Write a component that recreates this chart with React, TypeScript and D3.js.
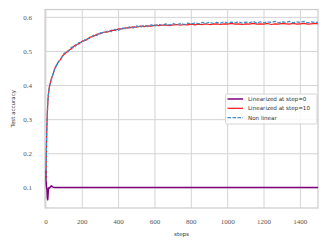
import React, { useRef, useEffect } from "react"
import * as d3 from "d3"

const chart_width = 329
const chart_height = 248
const margin = { left: 45, right: 11, top: 9.5, bottom: 40 }

// steps shared by the two rising curves
const steps = [
  0, 2, 4, 6, 8, 10, 13, 16, 20, 25, 30, 40, 50, 60, 70, 80, 90,
  100, 120, 140, 160, 180, 200, 220, 240, 260, 280, 300, 320, 340, 360, 380,
  400, 420, 440, 460, 480, 500, 520, 540, 560, 580, 600, 620, 640, 660, 680,
  700, 720, 740, 760, 780, 800, 820, 840, 860, 880, 900, 920, 940, 960, 980,
  1000, 1020, 1040, 1060, 1080, 1100, 1120, 1140, 1160, 1180, 1200, 1220, 1240,
  1260, 1280, 1300, 1320, 1340, 1360, 1380, 1400, 1420, 1440, 1460, 1480, 1500,
]

const nonLinear = [
  0.12, 0.19, 0.25, 0.29, 0.32, 0.345, 0.368, 0.386, 0.397, 0.411, 0.417, 0.437, 0.449, 0.463, 0.469, 0.478, 0.484,
  0.495, 0.498, 0.512, 0.514, 0.526, 0.527, 0.537, 0.538, 0.547, 0.547, 0.555, 0.554, 0.561, 0.558, 0.565,
  0.562, 0.569, 0.566, 0.572, 0.569, 0.575, 0.571, 0.577, 0.573, 0.578, 0.575, 0.58, 0.576, 0.581, 0.577,
  0.582, 0.578, 0.582, 0.579, 0.583, 0.58, 0.584, 0.581, 0.585, 0.582, 0.586, 0.582, 0.585, 0.583, 0.587,
  0.583, 0.586, 0.584, 0.587, 0.583, 0.586, 0.584, 0.588, 0.583, 0.587, 0.584, 0.587, 0.585,
  0.588, 0.584, 0.587, 0.585, 0.588, 0.584, 0.587, 0.585, 0.588, 0.584, 0.587, 0.585, 0.586,
]

const linStep10 = [
  0.12, 0.19, 0.25, 0.29, 0.32, 0.345, 0.372, 0.383, 0.4, 0.408, 0.42, 0.434, 0.452, 0.46, 0.471, 0.476, 0.486,
  0.491, 0.501, 0.508, 0.518, 0.522, 0.53, 0.533, 0.541, 0.544, 0.55, 0.552, 0.557, 0.557, 0.562, 0.562,
  0.566, 0.566, 0.569, 0.569, 0.572, 0.571, 0.574, 0.573, 0.575, 0.574, 0.577, 0.576, 0.577, 0.578, 0.576,
  0.578, 0.579, 0.577, 0.579, 0.578, 0.58, 0.578, 0.58, 0.579, 0.581, 0.579, 0.58, 0.581, 0.579, 0.581,
  0.58, 0.582, 0.58, 0.581, 0.579, 0.581, 0.58, 0.582, 0.58, 0.581, 0.58, 0.582, 0.579,
  0.581, 0.58, 0.582, 0.581, 0.58, 0.582, 0.58, 0.581, 0.582, 0.58, 0.581, 0.582, 0.581,
]

const steps0 = [0, 2, 4, 6, 8, 10, 12, 14, 16, 20, 25, 30, 35, 40, 50, 60, 80, 100, 300, 500, 700, 900, 1100, 1300, 1500]
const linStep0 = [
  0.15, 0.11, 0.1, 0.095, 0.07, 0.065, 0.08, 0.1, 0.098, 0.1, 0.103, 0.106, 0.104, 0.102, 0.101, 0.101,
  0.101, 0.101, 0.101, 0.101, 0.101, 0.101, 0.101, 0.101, 0.101,
]

const xTicks = [0, 200, 400, 600, 800, 1000, 1200, 1400]
const yTicks = [0.1, 0.2, 0.3, 0.4, 0.5, 0.6]

const series = [
  { label: "Linearized at step=0", x: steps0, y: linStep0, color: "#800080", width: 1.5, dash: null },
  { label: "Linearized at step=10", x: steps, y: linStep10, color: "#ff1a1a", width: 1.25, dash: null },
  { label: "Non linear", x: steps, y: nonLinear, color: "#3d8ccb", width: 1.25, dash: "3.5,1.5" },
]

const LineChart = () => {
  const d3Container = useRef<SVGSVGElement | null>(null)

  useEffect(() => {
    if (!d3Container.current) return
    const svg = d3.select(d3Container.current)
    svg.selectAll("*").remove()

    const x_scale = d3
      .scaleLinear()
      .domain([-5, 1497])
      .range([margin.left, chart_width - margin.right])
    const y_scale = d3
      .scaleLinear()
      .domain([0.041, 0.623])
      .range([chart_height - margin.bottom, margin.top])

    const g = svg.append("g")

    // grid
    g.selectAll(".xg")
      .data(xTicks)
      .enter()
      .append("line")
      .attr("x1", d => x_scale(d))
      .attr("x2", d => x_scale(d))
      .attr("y1", margin.top)
      .attr("y2", chart_height - margin.bottom)
      .attr("stroke", "#d4d4d4")
      .attr("stroke-width", 1)
    g.selectAll(".yg")
      .data(yTicks)
      .enter()
      .append("line")
      .attr("x1", margin.left)
      .attr("x2", chart_width - margin.right)
      .attr("y1", d => y_scale(d))
      .attr("y2", d => y_scale(d))
      .attr("stroke", "#d4d4d4")
      .attr("stroke-width", 1)

    // frame
    g.append("rect")
      .attr("x", margin.left)
      .attr("y", margin.top)
      .attr("width", chart_width - margin.left - margin.right)
      .attr("height", chart_height - margin.top - margin.bottom)
      .attr("fill", "none")
      .attr("stroke", "#cccccc")
      .attr("stroke-width", 1.2)

    // tick labels
    g.selectAll(".xt")
      .data(xTicks)
      .enter()
      .append("text")
      .attr("x", d => x_scale(d))
      .attr("y", 224)
      .attr("text-anchor", "middle")
      .attr("font-family", "Liberation Serif, serif")
      .attr("font-size", 7)
      .attr("fill", "#555")
      .text(d => d)
    g.selectAll(".yt")
      .data(yTicks)
      .enter()
      .append("text")
      .attr("x", 32)
      .attr("y", d => y_scale(d) + 2.4)
      .attr("text-anchor", "end")
      .attr("font-family", "Liberation Serif, serif")
      .attr("font-size", 7)
      .attr("fill", "#555")
      .text(d => d3.format(".1f")(d))

    // axis labels
    g.append("text")
      .attr("x", (margin.left + chart_width - margin.right) / 2)
      .attr("y", 236)
      .attr("text-anchor", "middle")
      .attr("font-family", "DejaVu Sans, sans-serif")
      .attr("font-size", 5.5)
      .attr("fill", "#333")
      .text("steps")
    g.append("text")
      .attr("transform", `translate(15,${(margin.top + chart_height - margin.bottom) / 2}) rotate(-90)`)
      .attr("text-anchor", "middle")
      .attr("font-family", "DejaVu Sans, sans-serif")
      .attr("font-size", 5.5)
      .attr("fill", "#333")
      .text("Test accuracy")

    // lines
    svg
      .append("clipPath")
      .attr("id", "plotclip")
      .append("rect")
      .attr("x", margin.left)
      .attr("y", margin.top)
      .attr("width", chart_width - margin.left - margin.right)
      .attr("height", chart_height - margin.top - margin.bottom)

    const lines = g.append("g").attr("clip-path", "url(#plotclip)")
    series.forEach(s => {
      const pts = s.x.map((v, i) => [v, s.y[i]] as [number, number])
      const line = d3
        .line<[number, number]>()
        .x(d => x_scale(d[0]))
        .y(d => y_scale(d[1]))
      lines
        .append("path")
        .attr("d", line(pts))
        .attr("fill", "none")
        .attr("stroke", s.color)
        .attr("stroke-width", s.width)
        .attr("stroke-linejoin", "round")
        .attr("stroke-dasharray", s.dash)
    })

    // legend
    const lg = g.append("g")
    lg.append("rect")
      .attr("x", 225.5)
      .attr("y", 94)
      .attr("width", 91.5)
      .attr("height", 30)
      .attr("rx", 1.5)
      .attr("fill", "white")
      .attr("fill-opacity", 0.85)
      .attr("stroke", "#cccccc")
      .attr("stroke-width", 0.8)
    series.forEach((s, i) => {
      const yy = 99 + i * 9.3
      lg.append("line")
        .attr("x1", 227.5)
        .attr("x2", 243)
        .attr("y1", yy)
        .attr("y2", yy)
        .attr("stroke", s.color)
        .attr("stroke-width", s.width)
        .attr("stroke-dasharray", s.dash)
      lg.append("text")
        .attr("x", 248)
        .attr("y", yy + 2)
        .attr("font-family", "DejaVu Sans, sans-serif")
        .attr("font-size", 5.6)
        .attr("fill", "#333")
        .text(s.label)
    })
  }, [])

  return (
    <svg
      ref={d3Container}
      width={chart_width}
      height={chart_height}
      style={{ position: "absolute", left: 0, top: 0, background: "white" }}
    />
  )
}

export default function App() {
  return <LineChart />
}
